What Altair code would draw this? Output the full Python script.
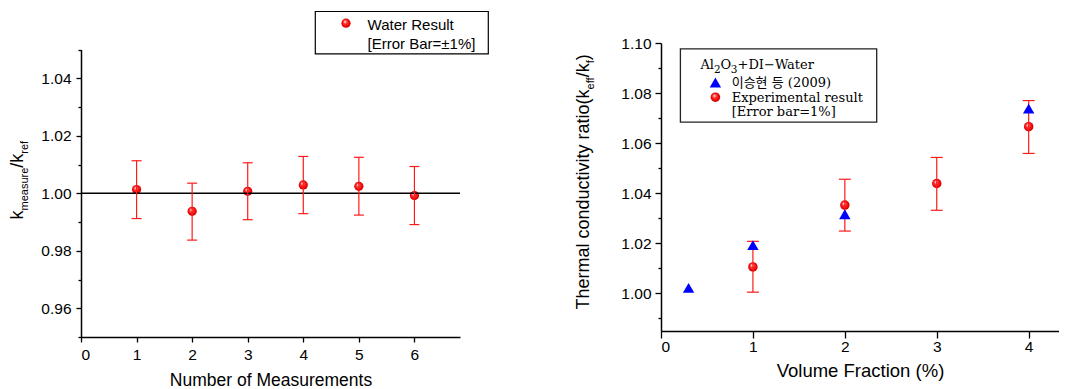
import altair as alt
import pandas as pd

# ---------------- data ----------------
# left panel: water reference measurements
meas_n = [1, 2, 3, 4, 5, 6]
meas_ratio = [1.0013, 0.9937, 1.0007, 1.0029, 1.0024, 0.9992]
meas_low = [0.9912, 0.9837, 0.9908, 0.9929, 0.9924, 0.9891]
meas_high = [1.0113, 1.0035, 1.0106, 1.0128, 1.0125, 1.0093]

# right panel: Al2O3 + DI-Water
ref_frac = [0.3, 1, 2, 4]
ref_ratio = [1.0022, 1.0193, 1.0316, 1.0738]

exp_frac = [1, 2, 3, 4]
exp_ratio = [1.0106, 1.0353, 1.0439, 1.0666]
exp_low = [1.0005, 1.0249, 1.0332, 1.0559]
exp_high = [1.0208, 1.0456, 1.0543, 1.0770]

left_yticks = [0.96, 0.98, 1.00, 1.02, 1.04]
left_yminor = [0.95, 0.97, 0.99, 1.01, 1.03, 1.05]
left_xticks = [0, 1, 2, 3, 4, 5, 6]
right_yticks = [1.00, 1.02, 1.04, 1.06, 1.08, 1.10]
right_yminor = [0.99, 1.01, 1.03, 1.05, 1.07, 1.09]
right_xticks = [0, 1, 2, 3, 4]

left_legend = ["Water Result", "[Error Bar=\u00b11%]"]
right_legend_title = [("Al", False), ("2", True), ("O", False), ("3", True),
                      ("+DI\u2212Water", False)]
right_legend = ["이승현 등 (2009)", "Experimental result", "[Error bar=1%]"]

SANS = "Liberation Sans"
SERIF = "DejaVu Serif, 'Noto Sans CJK KR', serif"
RED = "#ff1a1a"

left_df = pd.DataFrame({"n": meas_n, "r": meas_ratio, "lo": meas_low, "hi": meas_high})
ref_df = pd.DataFrame({"v": ref_frac, "r": ref_ratio})
exp_df = pd.DataFrame({"v": exp_frac, "r": exp_ratio, "lo": exp_low, "hi": exp_high})
one = pd.DataFrame({"k": [0]})

grad = alt.RadialGradient(
    gradient="radial",
    stops=[
        alt.GradientStop(color="#fff0f0", offset=0),
        alt.GradientStop(color="#ff3030", offset=0.35),
        alt.GradientStop(color="#e80000", offset=0.8),
        alt.GradientStop(color="#a80000", offset=1),
    ],
    x1=0.38, y1=0.32, r1=0.02, x2=0.5, y2=0.5, r2=0.55,
)

# Arial / Liberation Sans advance widths (em) for the rotated titles
W = {'k': .5, 'm': .833, 'e': .556, 'a': .556, 's': .5, 'u': .556, 'r': .333,
     'f': .278, '/': .278, 'T': .611, 'h': .556, 'l': .222, ' ': .278, 'c': .5,
     'o': .556, 'n': .556, 'd': .556, 't': .278, 'i': .222, 'v': .5, 'y': .5,
     '(': .333, ')': .333}
# DejaVu Serif advance widths (em) for the legend title pieces
WS = {'A': .722, 'l': .320, 'O': .787, '2': .636, '3': .636}


def tw(s, size):
    return sum(W[c] for c in s) * size


def txt(s, x, y, size, font=SANS, angle=0, align="left", baseline="middle"):
    return alt.Chart(one).mark_text(
        text=s, font=font, fontSize=size, angle=angle, align=align,
        baseline=baseline, color="black"
    ).encode(x=alt.value(x), y=alt.value(y))


def rotated_title(pieces, x_main, x_sub, y0):
    layers = []
    y = y0
    for s, sub in pieces:
        size = 11 if sub else 18
        layers.append(txt(s, x_sub if sub else x_main, y, size, angle=270,
                          baseline="alphabetic"))
        y -= tw(s, size)
    return layers


def serif_title(pieces, x0, y_main, y_sub):
    layers = []
    x = x0
    for s, sub in pieces:
        size = 10.5 if sub else 13
        layers.append(txt(s, x, y_sub if sub else y_main, size, font=SERIF,
                          baseline="alphabetic"))
        x += sum(WS.get(c, 0.6) for c in s) * size
    return layers


def minor_axis(vals):
    return alt.Axis(values=vals, labels=False, tickSize=3, domain=False, title=None,
                    orient="left", grid=False)


# ---------------- left panel ----------------
xs_L = alt.Scale(domain=[0, 6.82], nice=False, zero=False)
ys_L = alt.Scale(domain=[0.95, 1.05], nice=False, zero=False, range=[294, 6.5])
xaxL = alt.Axis(values=left_xticks, format="d", tickSize=5, labelPadding=5, orient="bottom",
                title="Number of Measurements", grid=False, labelFontSize=15.5,
                titleFontSize=17.5, titlePadding=9)

baseL = alt.Chart(left_df)
ptsL = baseL.mark_point(shape="circle", filled=True, fill=grad, size=85, opacity=1,
                        strokeWidth=0).encode(
    x=alt.X("n:Q", scale=xs_L, axis=xaxL),
    y=alt.Y("r:Q", scale=ys_L, axis=alt.Axis(values=left_yticks, format=".2f", tickSize=5,
                                             labelPadding=5, title=None, orient="left",
                                             grid=False, labelFontSize=15.5)),
)
minorL = baseL.mark_point(opacity=0).encode(
    x=alt.X("n:Q", scale=xs_L, axis=xaxL),
    y=alt.Y("r:Q", scale=ys_L, axis=minor_axis(left_yminor)),
)
hline = alt.Chart(one).mark_rule(color="black", strokeWidth=1.5).encode(
    y=alt.YDatum(1.0, type="quantitative", scale=ys_L, axis=None)
)
barsL = baseL.mark_rule(color=RED, strokeWidth=1.2).encode(
    x=alt.X("n:Q", scale=xs_L, axis=xaxL),
    y=alt.Y("lo:Q", scale=ys_L, axis=None), y2="hi:Q",
)
capLoL = baseL.mark_tick(color=RED, orient="horizontal", size=10, thickness=1.2, opacity=1).encode(
    x=alt.X("n:Q", scale=xs_L, axis=xaxL), y=alt.Y("lo:Q", scale=ys_L, axis=None))
capHiL = baseL.mark_tick(color=RED, orient="horizontal", size=10, thickness=1.2, opacity=1).encode(
    x=alt.X("n:Q", scale=xs_L, axis=xaxL), y=alt.Y("hi:Q", scale=ys_L, axis=None))
legL = [
    alt.Chart(one).mark_rect(fillOpacity=0, stroke="black", strokeWidth=1.2).encode(
        x=alt.value(234.3), x2=alt.value(407.3), y=alt.value(-31.5), y2=alt.value(10.8)),
    alt.Chart(one).mark_point(shape="circle", filled=True, fill=grad, size=85, opacity=1,
                              strokeWidth=0).encode(x=alt.value(265), y=alt.value(-19.8)),
    txt(left_legend[0], 286.6, -18.5, 15),
    txt(left_legend[1], 286.6, 0.8, 15),
]
titleL = rotated_title([("k", False), ("measure", True), ("/k", False), ("ref", True)],
                       -58.4, -53.4, 176.5)

left = alt.layer(ptsL, minorL, hline, barsL, capLoL, capHiL, *legL, *titleL).resolve_axis(
    y="independent").properties(width=379, height=294)

# ---------------- right panel ----------------
xs_R = alt.Scale(domain=[0, 4.33], nice=False, zero=False)
ys_R = alt.Scale(domain=[0.985, 1.10], nice=False, zero=False)
xaxR = alt.Axis(values=right_xticks, format="d", tickSize=7, labelPadding=1,
                title="Volume Fraction (%)", grid=False, orient="bottom", labelFontSize=15.5,
                titleFontSize=18.5, titlePadding=7)

baseR = alt.Chart(exp_df)
ptsR = baseR.mark_point(shape="circle", filled=True, fill=grad, size=90, opacity=1,
                        strokeWidth=0).encode(
    x=alt.X("v:Q", scale=xs_R, axis=xaxR),
    y=alt.Y("r:Q", scale=ys_R, axis=alt.Axis(values=right_yticks, format=".2f", tickSize=6,
                                             labelPadding=4, title=None, orient="left",
                                             grid=False, labelFontSize=15.5)),
)
minorR = baseR.mark_point(opacity=0).encode(
    x=alt.X("v:Q", scale=xs_R, axis=xaxR),
    y=alt.Y("r:Q", scale=ys_R, axis=minor_axis(right_yminor)),
)
barsR = baseR.mark_rule(color=RED, strokeWidth=1.2).encode(
    x=alt.X("v:Q", scale=xs_R, axis=xaxR),
    y=alt.Y("lo:Q", scale=ys_R, axis=None), y2="hi:Q",
)
capLoR = baseR.mark_tick(color=RED, orient="horizontal", size=12, thickness=1.2, opacity=1).encode(
    x=alt.X("v:Q", scale=xs_R, axis=xaxR), y=alt.Y("lo:Q", scale=ys_R, axis=None))
capHiR = baseR.mark_tick(color=RED, orient="horizontal", size=12, thickness=1.2, opacity=1).encode(
    x=alt.X("v:Q", scale=xs_R, axis=xaxR), y=alt.Y("hi:Q", scale=ys_R, axis=None))
triR = alt.Chart(ref_df).mark_point(shape="triangle-up", filled=True, fill="#0000ff", size=130,
                                    opacity=1, strokeWidth=0).encode(
    x=alt.X("v:Q", scale=xs_R, axis=xaxR), y=alt.Y("r:Q", scale=ys_R, axis=None))
legR = [
    alt.Chart(one).mark_rect(fillOpacity=0, stroke="#222222", strokeWidth=1.3).encode(
        x=alt.value(19.4), x2=alt.value(215.7), y=alt.value(5.8), y2=alt.value(79.2)),
    *serif_title(right_legend_title, 39.4, 25.5, 29.5),
    alt.Chart(one).mark_point(shape="triangle-up", filled=True, fill="#0000ff", size=130,
                              opacity=1, strokeWidth=0).encode(x=alt.value(54.4), y=alt.value(39.5)),
    txt(right_legend[0], 70.7, 39.5, 13, font=SERIF),
    alt.Chart(one).mark_point(shape="circle", filled=True, fill=grad, size=90, opacity=1,
                              strokeWidth=0).encode(x=alt.value(54.4), y=alt.value(54.2)),
    txt(right_legend[1], 70.7, 54.5, 13, font=SERIF),
    txt(right_legend[2], 70.7, 69, 13, font=SERIF),
]
titleR = rotated_title([("Thermal conductivity ratio(k", False), ("eff", True), ("/k", False),
                        ("f", True), (")", False)], -71.6, -66.6, 266.5)

right = alt.layer(ptsR, minorR, barsR, capLoR, capHiR, triR, *legR, *titleR).resolve_axis(
    y="independent").properties(width=398, height=288)

chart = alt.hconcat(left, right, spacing=201, bounds="flush").properties(
    padding={"left": 0, "top": 2, "right": 0, "bottom": 0}, background="white"
).configure_view(stroke=None).configure_axis(
    labelFont=SANS, labelFontSize=15.5, labelColor="black", tickColor="black",
    domainColor="black", domainWidth=1.5, tickWidth=1.3, grid=False,
    titleFont=SANS, titleFontWeight="normal", titleColor="black",
)

chart.save("out.html", embed_options={"renderer": "svg", "actions": False})
